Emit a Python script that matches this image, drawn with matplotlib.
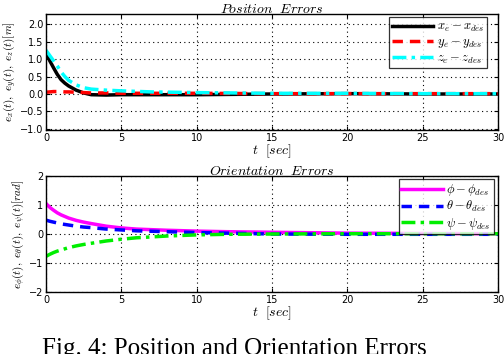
import matplotlib
matplotlib.use("Agg")
import matplotlib.pyplot as plt

plt.rcParams["mathtext.fontset"] = "cm"

# Position errors
t_pos = [0, 0.25, 0.5, 0.75, 1, 1.25, 1.5, 2, 2.5, 3, 4, 5, 7, 10, 15, 20, 25, 30]
ex = [1.2, 0.95, 0.75, 0.56, 0.41, 0.31, 0.23, 0.11, 0.03, -0.02, -0.03, -0.02, -0.02, -0.02, 0.0, 0.01, 0.0, 0.0]
ey = [0.05, 0.06, 0.07, 0.07, 0.07, 0.06, 0.06, 0.05, 0.04, 0.03, 0.03, 0.02, 0.02, 0.02, 0.01, 0.01, 0.01, 0.01]
ez = [1.25, 1.1, 0.95, 0.8, 0.63, 0.5, 0.39, 0.26, 0.18, 0.14, 0.11, 0.09, 0.06, 0.04, 0.02, 0.02, 0.01, 0.01]

# Orientation errors
t_ori = [0, 0.25, 0.5, 0.75, 1, 1.5, 2, 2.5, 3, 4, 5, 6, 8, 10, 12, 15, 20, 25, 30]
e_phi = [1.05, 0.92, 0.82, 0.73, 0.66, 0.55, 0.47, 0.41, 0.36, 0.27, 0.21, 0.17, 0.13, 0.1, 0.08, 0.06, 0.03, 0.02, 0.01]
e_theta = [0.48, 0.44, 0.41, 0.38, 0.35, 0.31, 0.27, 0.24, 0.22, 0.17, 0.14, 0.11, 0.08, 0.05, 0.03, 0.0, -0.01, -0.01, -0.01]
e_psi = [-0.77, -0.7, -0.64, -0.59, -0.55, -0.47, -0.41, -0.36, -0.32, -0.24, -0.18, -0.13, -0.07, -0.03, -0.01, 0.0, 0.01, 0.01, 0.01]

pos_labels = [r"$x_e - x_{des}$", r"$y_e - y_{des}$", r"$z_e - z_{des}$"]
ori_labels = [r"$\phi - \phi_{des}$", r"$\theta - \theta_{des}$", r"$\psi - \psi_{des}$"]

fig = plt.figure(figsize=(5.04, 3.54), dpi=100)
ax1 = fig.add_axes([0.0913, 0.6328, 0.897, 0.3277])
ax2 = fig.add_axes([0.0913, 0.1751, 0.897, 0.3277])

ax1.plot(t_pos, ex, color="black", lw=2.5, label=pos_labels[0])
ax1.plot(t_pos, ey, color="red", lw=2.5, ls=(0, (3, 2)), label=pos_labels[1])
ax1.plot(t_pos, ez, color="cyan", lw=2.5, ls=(0, (4, 1.5, 1, 1.5)), label=pos_labels[2])
ax1.set_xlim(0, 30)
ax1.set_ylim(-1.03, 2.29)
ax1.set_yticks([-1, -0.5, 0, 0.5, 1, 1.5, 2])
ax1.set_title(r"$Position\ \ Errors$", fontsize=10, pad=1)
ax1.set_xlabel(r"$t\ \ [sec]$", fontsize=10, labelpad=0)
ax1.set_ylabel(r"$e_x(t),\ e_y(t),\ e_z(t)[m]$", fontsize=8, labelpad=1)

ax2.plot(t_ori, e_phi, color="magenta", lw=2.5, label=ori_labels[0])
ax2.plot(t_ori, e_theta, color="blue", lw=2.5, ls=(0, (3, 2)), label=ori_labels[1])
ax2.plot(t_ori, e_psi, color="#00ee00", lw=2.5, ls=(0, (4, 1.5, 1, 1.5)), label=ori_labels[2])
ax2.set_xlim(0, 30)
ax2.set_ylim(-2, 2)
ax2.set_yticks([-2, -1, 0, 1, 2])
ax2.set_title(r"$Orientation\ \ Errors$", fontsize=10, pad=1)
ax2.set_xlabel(r"$t\ \ [sec]$", fontsize=10, labelpad=0)
ax2.set_ylabel(r"$e_\phi(t),\ e_\theta(t),\ e_\psi(t)[rad]$", fontsize=8, labelpad=1)

for ax in (ax1, ax2):
    ax.set_xticks([0, 5, 10, 15, 20, 25, 30])
    ax.grid(True, color="black", ls=(0, (1, 3)), lw=0.8)
    ax.tick_params(direction="in", top=True, right=True, labelsize=7, pad=2, length=3)
    for s in ax.spines.values():
        s.set_linewidth(1.0)

leg1 = ax1.legend(loc="upper right", bbox_to_anchor=(0.975, 0.97), fontsize=9,
                  fancybox=False, edgecolor="black", borderpad=0.2, labelspacing=0.1,
                  handlelength=3.3, handletextpad=0.3, borderaxespad=0.0)
leg2 = ax2.legend(loc="upper right", bbox_to_anchor=(0.99, 0.97), fontsize=9,
                  fancybox=False, edgecolor="black", borderpad=0.2, labelspacing=0.1,
                  handlelength=3.3, handletextpad=0.3, borderaxespad=0.0)
for leg in (leg1, leg2):
    leg.get_frame().set_linewidth(0.9)

fig.text(0.083, -0.004, "Fig. 4: Position and Orientation Errors", fontsize=18,
         family="Liberation Serif", va="baseline", ha="left")

fig.savefig("out.png", dpi=100)
